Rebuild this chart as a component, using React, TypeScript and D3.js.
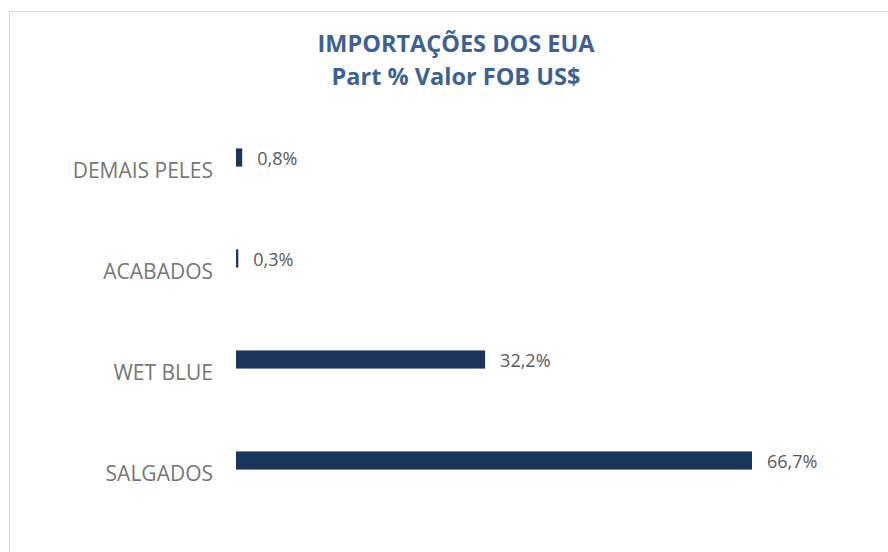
import * as d3 from 'd3';

const categories = ['DEMAIS PELES', 'ACABADOS', 'WET BLUE', 'SALGADOS'];
const shares = [0.8, 0.3, 32.2, 66.7];
const valueLabels = ['0,8%', '0,3%', '32,2%', '66,7%'];

const width = 888;
const height = 552;
const font = "'Open Sans', 'Noto Sans', sans-serif";

function App() {
    const data = categories.map((name, i) => ({ name, value: shares[i], label: valueLabels[i] }));

    const xScale = d3.scaleLinear().domain([0, 66.7]).range([236, 752]);
    const yScale = d3.scaleBand()
        .domain(categories)
        .range([107, 511])
        .paddingInner(0.82)
        .paddingOuter(0.41);

    return (
        <svg width={width} height={height} style={{ position: 'absolute', left: 0, top: 0 }}>
            <rect x={0} y={0} width={width} height={height} fill="#fff" />
            <rect x={9.5} y={11.5} width={width} height={height} fill="#fff" stroke="#d9d9d9" />

            <g fontFamily={font} fontWeight="bold" fill="#3d6195" textAnchor="middle" fontSize={23.5}>
                <text x={456} y={52}>IMPORTAÇÕES DOS EUA</text>
                <text x={456} y={85}>Part % Valor FOB US$</text>
            </g>

            {data.map(d => {
                const y = yScale(d.name) as number;
                const bw = yScale.bandwidth();
                return (
                    <g key={d.name}>
                        <rect
                            x={xScale(0)}
                            y={y}
                            width={Math.max(xScale(d.value) - xScale(0), 1.5)}
                            height={bw}
                            fill="#1b365d"
                        />
                        <text
                            x={xScale(d.value) + 15}
                            y={y + bw / 2 + 7}
                            fontFamily={font}
                            fontSize={18}
                            fill="#595959"
                        >{d.label}</text>
                        <text
                            x={213}
                            y={y + bw / 2 + 20.5}
                            fontFamily={font}
                            fontSize={21}
                            fill="#767676"
                            textAnchor="end"
                        >{d.name}</text>
                    </g>
                );
            })}
        </svg>
    );
}

export default App;
